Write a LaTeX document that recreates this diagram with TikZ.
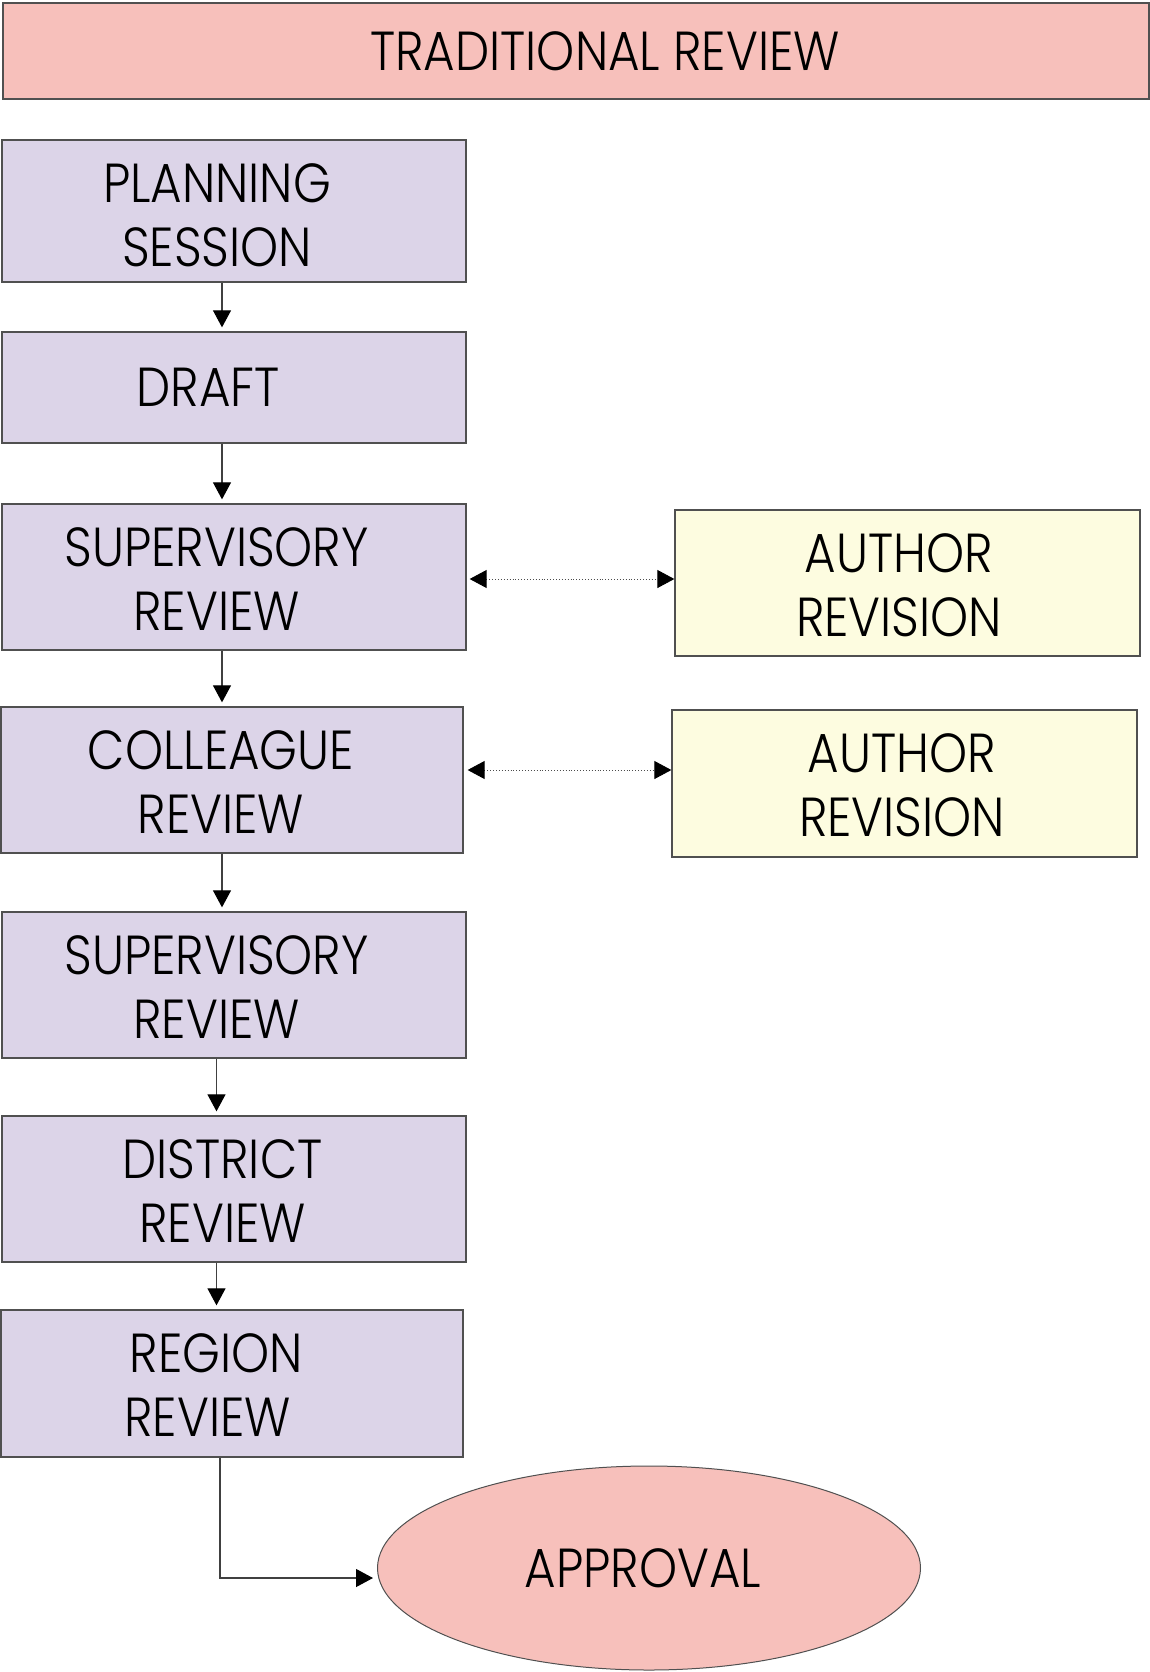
\documentclass[tikz,border=0pt]{standalone}
\usepackage{fontspec}
\setmainfont{Poppins}[UprightFont=* Light, FakeStretch=0.88]
\usetikzlibrary{arrows.meta,shapes.geometric}
\definecolor{pinkfill}{HTML}{F7C0BB}
\definecolor{lilac}{HTML}{DCD4E8}
\definecolor{cream}{HTML}{FDFCE0}
\definecolor{edge}{HTML}{505050}
\begin{document}
\begin{tikzpicture}[x=1pt,y=-1pt,
  txt/.style={font=\fontsize{55}{64}\selectfont, align=center, text=black, inner sep=0pt},
  box/.style={draw=edge, line width=1.3pt, rectangle, inner sep=0pt},
  stepbox/.style={box, fill=lilac},
  authbox/.style={box, fill=cream},
  arr/.style={-{Triangle[length=17pt,width=18pt,color=black]}, line width=1.1pt, draw=black!75, shorten >=4pt},
  darr/.style={{Triangle[length=17pt,width=18pt,color=black]}-{Triangle[length=17pt,width=18pt,color=black]}, line width=0.9pt, dotted, draw=black!70}
]
\useasboundingbox (0,0) rectangle (1150,1672);
\node[box, fill=pinkfill, minimum width=1146pt, minimum height=96pt] (title) at (576,51) {};
\node[txt] (titleT) at ([xshift=29pt]title.center) {TRADITIONAL REVIEW};
\node[stepbox, minimum width=464pt, minimum height=142pt] (plan) at (234,211) {};
\node[txt] (planT) at ([xshift=-17pt,yshift=-4pt]plan.center) {PLANNING\\SESSION};
\node[stepbox, minimum width=464pt, minimum height=111pt] (draft) at (234,387.5) {};
\node[txt] (draftT) at ([xshift=-26pt]draft.center) {DRAFT};
\node[stepbox, minimum width=464pt, minimum height=146pt] (sup1) at (234,577) {};
\node[txt] (sup1T) at ([xshift=-17.5pt,yshift=-2pt]sup1.center) {SUPERVISORY\\REVIEW};
\node[authbox, minimum width=465pt, minimum height=146pt] (auth1) at (907.5,583) {};
\node[txt] (auth1T) at ([xshift=-8.5pt,yshift=-2pt]auth1.center) {AUTHOR\\REVISION};
\node[stepbox, minimum width=462pt, minimum height=146pt] (coll) at (232,780) {};
\node[txt] (collT) at ([xshift=-11pt,yshift=-2pt]coll.center) {COLLEAGUE\\REVIEW};
\node[authbox, minimum width=465pt, minimum height=147pt] (auth2) at (904.5,783.5) {};
\node[txt] (auth2T) at ([xshift=-2.5pt,yshift=-2pt]auth2.center) {AUTHOR\\REVISION};
\node[stepbox, minimum width=464pt, minimum height=146pt] (sup2) at (234,985) {};
\node[txt] (sup2T) at ([xshift=-17.5pt,yshift=-2pt]sup2.center) {SUPERVISORY\\REVIEW};
\node[stepbox, minimum width=464pt, minimum height=146pt] (dist) at (234,1189) {};
\node[txt] (distT) at ([xshift=-11.5pt,yshift=-2pt]dist.center) {DISTRICT\\REVIEW};
\node[stepbox, minimum width=462pt, minimum height=147pt] (region) at (232,1383.5) {};
\node[txt] (regionT) at ([xshift=-15.5pt,yshift=-2pt]region.center) {REGION\\\hspace*{-18pt}REVIEW};
\node[ellipse, draw=edge, line width=1pt, fill=pinkfill, minimum width=543pt, minimum height=204pt, inner sep=0pt] (approval) at (649,1568) {};
\node[txt] (approvalT) at ([xshift=-6pt]approval.center) {APPROVAL};
\coordinate (xA) at (222,0);
\coordinate (xB) at (216.5,0);
\coordinate (xC) at (220,0);
\draw[arr] (plan.south -| xA) -- (draft.north -| xA);
\draw[arr] (draft.south -| xA) -- (sup1.north -| xA);
\draw[arr] (sup1.south -| xA) -- (coll.north -| xA);
\draw[arr] (coll.south -| xA) -- (sup2.north -| xA);
\draw[arr] (sup2.south -| xB) -- (dist.north -| xB);
\draw[arr] (dist.south -| xB) -- (region.north -| xB);
\draw[arr, shorten >=0pt] (region.south -| xC) |- ([xshift=-4pt,yshift=-10pt]approval.west);
\draw[darr, shorten <=3pt] ([yshift=-2pt]sup1.east) -- ([yshift=4pt]auth1.west);
\draw[darr, shorten <=4pt] ([yshift=10pt]coll.east) -- ([yshift=13.5pt]auth2.west);
\end{tikzpicture}
\end{document}
